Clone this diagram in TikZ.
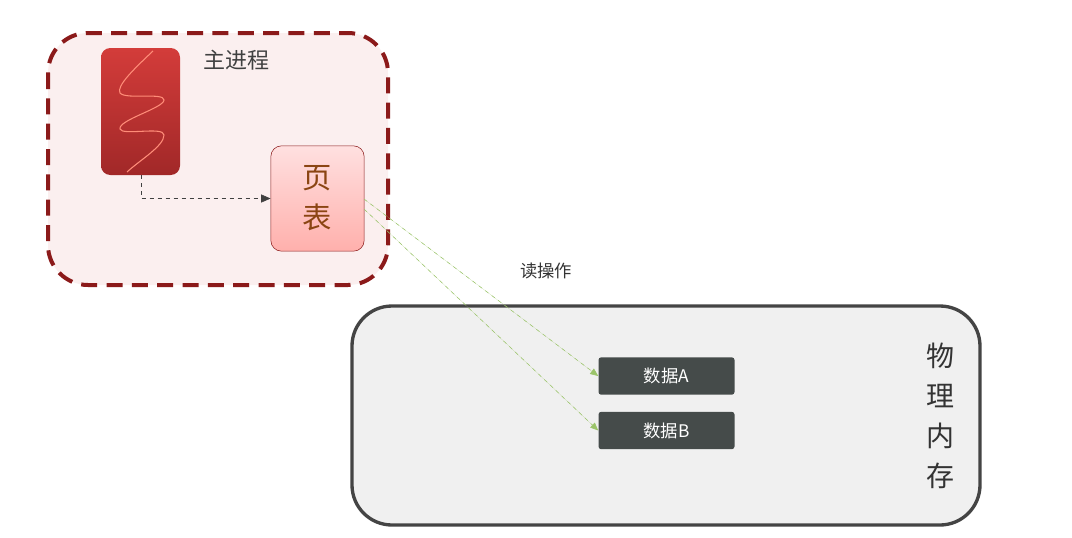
\documentclass[tikz,border=0pt]{standalone}
\usepackage{fontspec}
\setmainfont{Noto Sans CJK SC}
\usetikzlibrary{arrows.meta}
\definecolor{procred}{HTML}{8B1A1A}
\definecolor{procbg}{HTML}{FBEFEF}
\definecolor{threadtop}{HTML}{D33C3A}
\definecolor{threadbot}{HTML}{A12828}
\definecolor{threadline}{HTML}{FF8C78}
\definecolor{pagetop}{HTML}{FFE0E0}
\definecolor{pagebot}{HTML}{FFB0AC}
\definecolor{pagetext}{HTML}{8B4513}
\definecolor{membg}{HTML}{F0F0F0}
\definecolor{memline}{HTML}{444444}
\definecolor{datafill}{HTML}{454B4A}
\definecolor{readgreen}{HTML}{9BC46A}
\tikzset{
  databox/.style={rectangle, rounded corners=2pt, fill=datafill, text=white,
    minimum width=102pt, minimum height=28pt, font=\fontsize{13}{15}\selectfont},
  readarrow/.style={draw=readgreen, dashed, -{Triangle[length=6pt,width=5pt]}, fill=readgreen}
}
\begin{document}
\begin{tikzpicture}[x=0.75pt,y=-0.75pt]
\useasboundingbox (0,0) rectangle (1072,537);
% main process
\draw[procred, line width=3pt, dash pattern=on 12pt off 7pt, fill=procbg, rounded corners=30pt]
  (48,33) rectangle (388,285);
\node[text=black!75, font=\fontsize{16.5}{18}\selectfont] (title) at (236,60) {主进程};
\shade[top color=threadtop, bottom color=threadbot, rounded corners=7pt]
  (101,48) rectangle (180,175);
\coordinate (thread) at (141,175);
\draw[threadline, line width=0.8pt]
  (153,51) .. controls (135,68) and (116,86) .. (120,93)
  .. controls (126,100) and (164,92) .. (164,100)
  .. controls (164,108) and (118,120) .. (120,129)
  .. controls (122,136) and (164,126) .. (164,135)
  .. controls (164,146) and (140,160) .. (127,172);
\node[draw=procred, rounded corners=8pt, top color=pagetop, bottom color=pagebot,
  minimum width=70pt, minimum height=79pt, text=pagetext, align=center,
  font=\fontsize{22}{30}\selectfont] (page) at (317.5,198.5) {页\\表};
\draw[dashed, black!75, -{Triangle[length=7pt,width=6pt]}] (thread) |- (page.west);
% physical memory
\draw[memline, line width=2.5pt, fill=membg, rounded corners=30pt]
  (352,306) rectangle (980,525);
\node[text=black!80, align=center, font=\fontsize{21}{30}\selectfont] (mem) at (940,416) {物\\理\\内\\存};
\node[databox] (dataA) at (666.5,376) {数据A};
\node[databox] (dataB) at (666.5,430.5) {数据B};
\node[font=\fontsize{13}{15}\selectfont, text=black!80] (read) at (546,271) {读操作};
\coordinate (pageA) at (364,199);
\coordinate (pageB) at (364,209);
\draw[readarrow] (pageA) -- (dataA.west);
\draw[readarrow] (pageB) -- (dataB.west);
\end{tikzpicture}
\end{document}
